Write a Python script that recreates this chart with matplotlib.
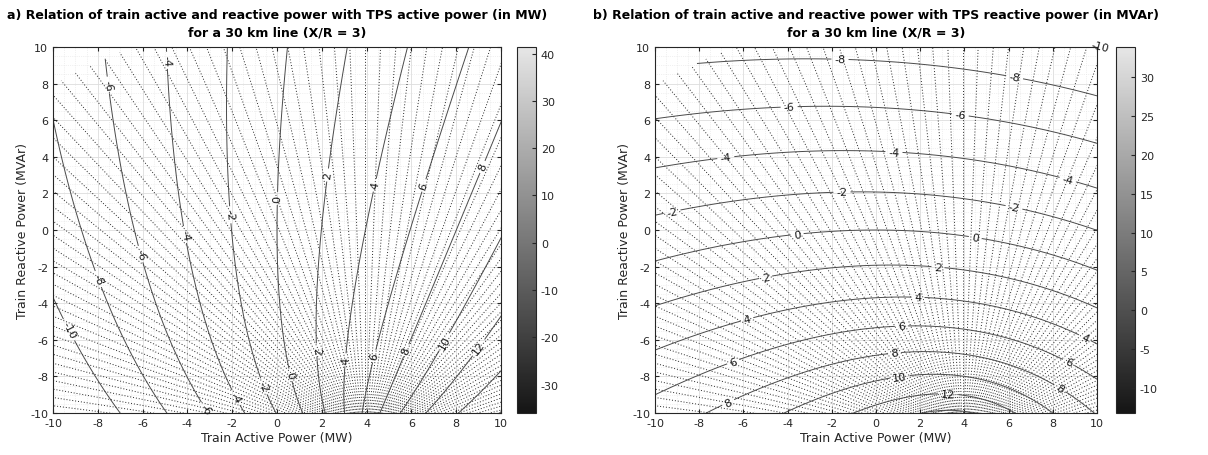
import numpy as np
import matplotlib
matplotlib.use("Agg")
import matplotlib.pyplot as plt
from matplotlib.colors import Normalize, LinearSegmentedColormap
from matplotlib.cm import ScalarMappable
from matplotlib.ticker import MultipleLocator

plt.rcParams["font.family"] = ["DejaVu Sans"]
plt.rcParams["axes.unicode_minus"] = False

# supply and line data
v_tps_kv = 25.0
line_km = 30.0
r_ohm_per_km = 0.1323
x_over_r = 3.0

# train operating points (MW, MVAr), a little wider than the axes
p_train = np.linspace(-10.6, 10.6, 531)
q_train = np.linspace(-10.6, 10.6, 531)

solid_levels = np.arange(-10, 18, 2)
angle_step_deg = 1.8
grid_radius = 24.15

# colour bar ranges
p_tps_range = (-36.0, 41.4)
q_tps_range = (-13.2, 33.85)
p_tps_ticks = [-30, -20, -10, 0, 10, 20, 30, 40]
q_tps_ticks = [-10, -5, 0, 5, 10, 15, 20, 25, 30]

# where the contour labels sit
p_label_pos = [(-7.60, 7.91), (-4.96, 9.27), (-2.22, 0.82), (-0.07, 1.73),
               (-4.22, -0.27), (-6.22, -1.36), (-8.29, -2.82), (-9.58, -5.64),
               (-3.16, -9.8), (-1.88, -9.18), (-0.6, -8.55), (0.66, -7.9),
               (1.85, -6.55), (3.11, -7.1), (4.38, -6.9), (5.72, -6.55),
               (7.44, -6.1), (8.93, -6.36), (2.3, 3.0), (4.37, 2.45),
               (6.52, 2.45), (8.65, 3.71)]
q_label_pos = [(-1.63, 9.27), (6.25, 8.2), (-3.93, 6.73), (3.8, 6.15),
               (-6.8, 4.0), (0.81, 4.18), (8.65, 2.6), (-9.23, 1.02),
               (-1.54, 2.07), (6.25, 1.27), (-3.56, -0.3), (4.5, -0.36),
               (-5.0, -2.53), (2.8, -2.09), (-5.82, -4.97), (1.9, -3.73),
               (9.45, -5.9), (-6.42, -7.32), (1.15, -5.31), (8.7, -7.27),
               (-6.64, -9.55), (0.85, -6.82), (8.33, -8.64), (1.08, -8.09),
               (3.27, -8.9), (10.15, 10.1)]

titles = ["a) Relation of train active and reactive power with TPS active power (in MW)\n"
          "for a 30 km line (X/R = 3)",
          "b) Relation of train active and reactive power with TPS reactive power (in MVAr)\n"
          "for a 30 km line (X/R = 3)"]

# power flow with a fixed TPS voltage
R = r_ohm_per_km * line_km
z = R * (1 + 1j * x_over_r) / v_tps_kv ** 2
P, Q = np.meshgrid(p_train, q_train)
S = P - 1j * Q
disc = 1 - 4 * z * np.conj(S)
vt = (1 + np.sqrt(disc)) / 2
s_tps = S / np.conj(vt)

c = 1 / (4 * np.conj(z))
dist = np.hypot(P - c.real, Q + c.imag)
mask = dist > grid_radius
theta = np.degrees(np.angle(disc * np.exp(-1j * (np.angle(z) - np.pi / 2))))
theta = np.ma.array(theta, mask=mask)
fields = [np.ma.array(s_tps.real, mask=mask), np.ma.array(s_tps.imag, mask=mask)]

cmap = LinearSegmentedColormap.from_list("g", ["#151515", "#e6e6e6"])
fig = plt.figure(figsize=(12.08, 4.56), dpi=100)
ax_pos = [[0.0439, 0.0921, 0.3708, 0.8026], [0.5422, 0.0921, 0.3659, 0.8026]]
cb_pos = [[0.428, 0.0921, 0.0157, 0.8026], [0.9238, 0.0921, 0.0157, 0.8026]]
ranges = [p_tps_range, q_tps_range]
cticks = [p_tps_ticks, q_tps_ticks]
labels = [p_label_pos, q_label_pos]

for i in range(2):
    ax = fig.add_axes(ax_pos[i])
    ax.set_xlim(-10, 10)
    ax.set_ylim(-10, 10)
    ax.xaxis.set_major_locator(MultipleLocator(2))
    ax.yaxis.set_major_locator(MultipleLocator(2))
    ax.xaxis.set_minor_locator(MultipleLocator(0.5))
    ax.yaxis.set_minor_locator(MultipleLocator(0.5))
    ax.grid(which="major", color="#dddddd", lw=0.6)
    ax.grid(which="minor", color="#e4e4e4", lw=0.5, ls=":")
    ax.set_axisbelow(True)
    ax.tick_params(which="major", direction="in", length=3, top=True, right=True,
                   labelsize=8, colors="#262626")
    ax.tick_params(which="minor", length=0)
    for sp in ax.spines.values():
        sp.set_color("#262626")
        sp.set_linewidth(0.8)

    ax.contour(P, Q, theta, levels=np.arange(-180, 180, angle_step_deg),
               colors="#262626", linewidths=0.7, linestyles=[(0, (1, 2))])
    cs = ax.contour(P, Q, fields[i], levels=solid_levels, colors="#4a4a4a",
                    linewidths=0.7, linestyles="solid", negative_linestyles="solid")
    txts = ax.clabel(cs, fmt="%d", fontsize=8, colors="#1a1a1a", manual=labels[i],
                     inline=True, inline_spacing=3)
    for t in txts:
        t.set_clip_on(False)

    ax.set_xlabel("Train Active Power (MW)", fontsize=9, color="#262626", labelpad=2)
    ax.set_ylabel("Train Reactive Power (MVAr)", fontsize=9, color="#262626", labelpad=1)
    ax.set_title(titles[i], fontsize=9, fontweight="bold", pad=8, linespacing=1.45)

    cax = fig.add_axes(cb_pos[i])
    sm = ScalarMappable(norm=Normalize(*ranges[i]), cmap=cmap)
    cb = fig.colorbar(sm, cax=cax, ticks=cticks[i])
    cb.outline.set_edgecolor("#262626")
    cb.outline.set_linewidth(0.8)
    cax.tick_params(direction="in", length=3, labelsize=8, colors="#262626")

fig.savefig("out.png")
